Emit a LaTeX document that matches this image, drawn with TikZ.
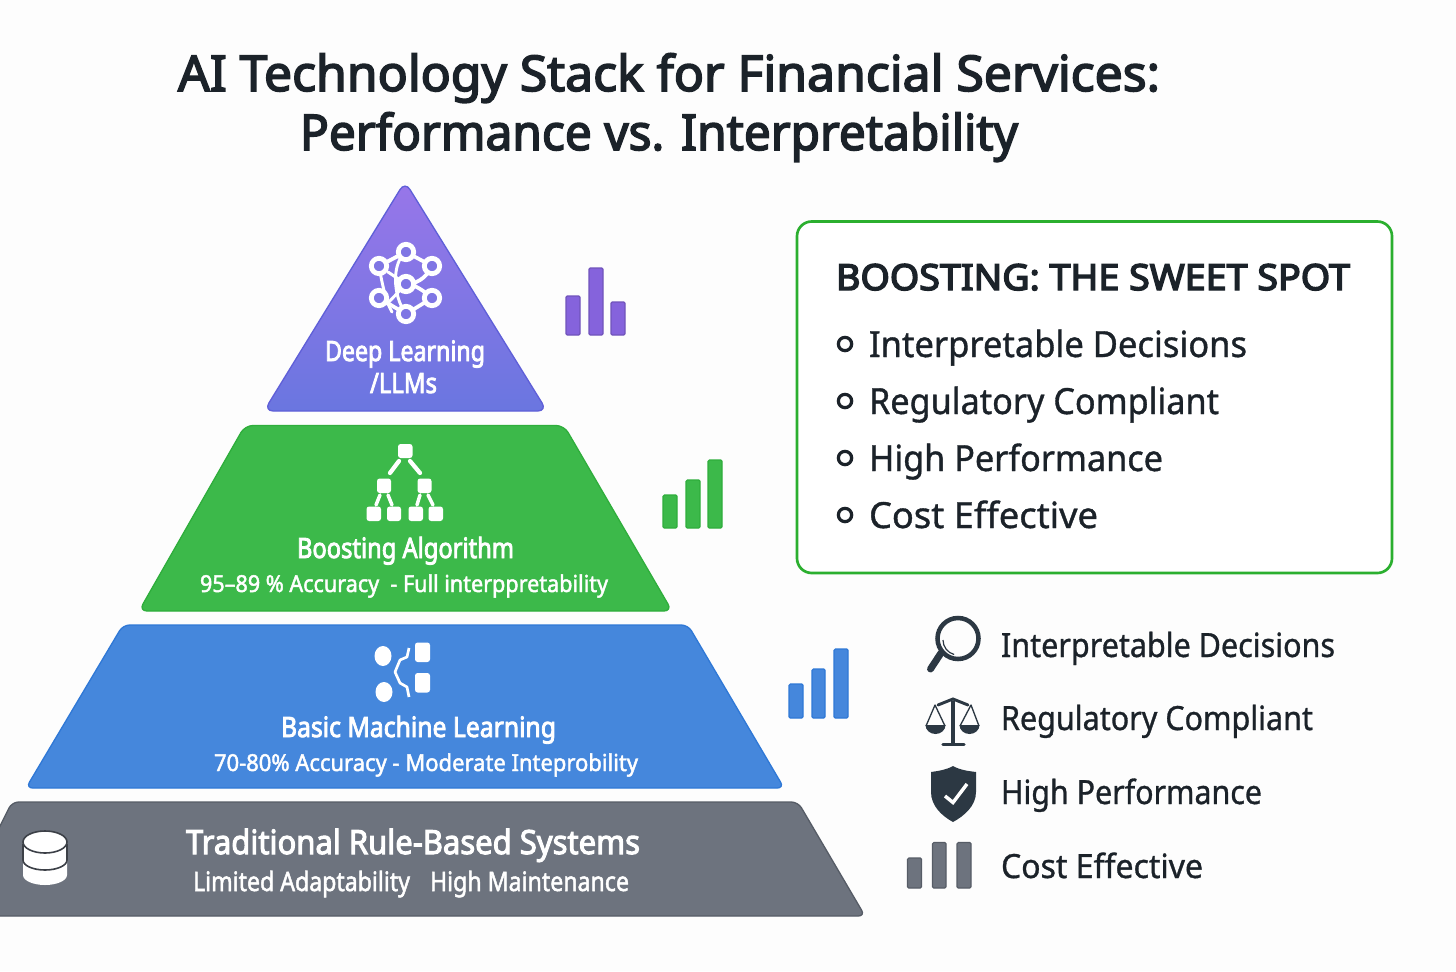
\documentclass[tikz,border=0pt]{standalone}
\usepackage{fontspec}
\usepackage{graphicx}
\setmainfont{Noto Sans}
\newfontfamily\medf[FakeBold=3.2]{Noto Sans}
\newfontfamily\semif[FakeBold=4]{Noto Sans}
\newfontfamily\lightf[FakeBold=1]{Noto Sans}
\newfontfamily\subf[FakeBold=2]{Noto Sans}
\newlength\pxu
\setlength\pxu{0.75pt}
\newcommand\fitw[2]{\resizebox{#1\pxu}{\height}{#2}}
\definecolor{ink}{HTML}{1B2229}
\definecolor{slateicon}{HTML}{2C3843}
\definecolor{purpleA}{HTML}{9876E9}
\definecolor{purpleB}{HTML}{6A76E0}
\definecolor{purpleE}{HTML}{5F5FD8}
\definecolor{purplebar}{HTML}{8563DC}
\definecolor{greenF}{HTML}{3CB94A}
\definecolor{greenE}{HTML}{2FAE3C}
\definecolor{blueF}{HTML}{4587DC}
\definecolor{blueE}{HTML}{2F78D6}
\definecolor{grayF}{HTML}{6D737E}
\definecolor{grayE}{HTML}{565C66}
\definecolor{boxgreen}{HTML}{2BAF2F}
\definecolor{paper}{HTML}{FDFDFD}
\tikzset{
  x=0.75pt,y=-0.75pt,
  txt/.style={anchor=base west,inner sep=0pt,outer sep=0pt},
  whitetxt/.style={txt,text=white},
  inktxt/.style={txt,text=ink},
  titletxt/.style={inktxt,font=\fontsize{37}{40}\medf},
  boxtxt/.style={inktxt,font=\fontsize{27}{30}\lightf},
  legtxt/.style={inktxt,font=\fontsize{25}{28}\lightf},
  tierhead/.style={whitetxt,font=\fontsize{21}{24}\medf},
  tiersub/.style={whitetxt,font=\fontsize{17.5}{20}\subf},
  bar/.style={rounded corners=1pt,line width=0.9pt},
  ic/.style={draw=white,line width=3.2pt,line cap=round,line join=round},
  nnode/.style={circle,draw=white,line width=3.6pt,fill=purpleB!55!purpleA,minimum size=11.5pt,inner sep=0pt},
  whitebox/.style={fill=white,rounded corners=2pt},
  bul/.style={circle,draw=ink,line width=2.4pt,fill=none,minimum size=10pt,inner sep=0pt},
}
\begin{document}
\begin{tikzpicture}
\useasboundingbox (0,0) rectangle (1456,971);
\fill[paper] (0,0) rectangle (1456,971);

% Title
\node[titletxt] (t1) at (178,91) {\fitw{982}{AI Technology Stack for Financial Services:}};
\node[titletxt] (t2) at (300,150) {\fitw{718}{Performance vs. Interpretability}};

% Tiers
\draw[draw=purpleE,line width=1pt,top color=purpleA,bottom color=purpleB,rounded corners=7pt]
  (405,181.5) -- (547,411) -- (264,411) -- cycle;
\draw[draw=greenE,line width=1pt,fill=greenF,rounded corners=6pt]
  (245,425.5) -- (564,425.5) -- (672,611) -- (139,611) -- cycle;
\draw[draw=blueE,line width=1pt,fill=blueF,rounded corners=5pt]
  (123,625) -- (688,625) -- (784,788) -- (26,788) -- cycle;
\begin{scope}
\clip (0,0) rectangle (1456,971);
\draw[draw=grayE,line width=1pt,fill=grayF,rounded corners=5pt]
  (12,802) -- (798,802) -- (865,916) -- (-45,916) -- cycle;
\end{scope}

% Neural net icon
\coordinate (na) at (406,252);
\coordinate (nb) at (379,266);
\coordinate (nc) at (432,266);
\coordinate (nd) at (406,284);
\coordinate (ne) at (379,298);
\coordinate (nf) at (432,298);
\coordinate (ng) at (406,314);
\draw[ic,line width=2.8pt] (nb) -- (na) -- (nc) .. controls (425,280) and (415,284) .. (nd) .. controls (415,284) and (425,292) .. (nf) -- (ng) -- (ne);
\draw[ic,line width=2.2pt] (na) .. controls (392,262) and (392,295) .. (ng);
\draw[ic,line width=2.2pt] (nb) .. controls (384,295) and (388,305) .. (392,312);
\draw[ic,line width=2.2pt] (nb) .. controls (388,262) and (392,258) .. (na);
\draw[ic,line width=2.2pt] (nd) -- (387,304);
\draw[ic,line width=2.2pt] (nd) -- (388,272);
\foreach \n in {na,nb,nc,nd,ne,nf,ng} \node[nnode] at (\n) {};

% Tree icon
\draw[ic] (399,461) -- (390,473);
\draw[ic] (410,461) -- (420,473);
\draw[ic,line width=2.6pt] (380,495) -- (376,505);
\draw[ic,line width=2.6pt] (388,495) -- (392,505);
\draw[ic,line width=2.6pt] (420,495) -- (417,505);
\draw[ic,line width=2.6pt] (428,495) -- (433,505);
\fill[whitebox] (398,444) rectangle (412.5,458);
\fill[whitebox] (377,478.5) rectangle (391,493);
\fill[whitebox] (417.5,478.5) rectangle (431.5,493);
\fill[whitebox] (366.5,506.5) rectangle (381,521);
\fill[whitebox] (387,506.5) rectangle (401,521);
\fill[whitebox] (408.5,506.5) rectangle (423,521);
\fill[whitebox] (428.5,506.5) rectangle (443,521);

% ML icon
\fill[white] (383,656) ellipse (8.5 and 10);
\fill[white] (384,692) ellipse (8.5 and 10);
\fill[whitebox] (415,642.5) rectangle (430,662);
\fill[whitebox] (415,673) rectangle (430,692.5);
\draw[white,line width=2pt,line join=round] (409,648) -- (407,657) -- (400,660) -- (395,672) -- (400,683) -- (407,687) -- (409,697);

% DB icon
\fill[white] (23,860) -- (23,875) arc[start angle=180,end angle=0,x radius=22,y radius=10] -- (67,860) -- cycle;
\draw[draw=grayE!70!black,line width=1.2pt,fill=white] (23,845) -- (23,860) arc[start angle=180,end angle=0,x radius=22,y radius=10] -- (67,845) -- cycle;
\draw[draw=grayE!70!black,line width=1.2pt,fill=white] (45,842) ellipse (22 and 11);

% Tier text
\node[tierhead] (dl1) at (325,361) {\fitw{160}{Deep Learning}};
\node[tierhead] (dl2) at (370,393) {\fitw{67}{/LLMs}};
\node[tierhead] (bo1) at (297,558) {\fitw{217}{Boosting Algorithm}};
\node[tiersub] (bo2) at (200,592) {\fitw{408}{95–89 \% Accuracy\ \ - Full interppretability}};
\node[tierhead] (ml1) at (281,737) {\fitw{275}{Basic Machine Learning}};
\node[tiersub] (ml2) at (214,771) {\fitw{424}{70-80\% Accuracy - Moderate Inteprobility}};
\node[whitetxt,font=\fontsize{25}{28}\medf] (tr1) at (186,854) {\fitw{454}{Traditional Rule-Based Systems}};
\node[tiersub,font=\fontsize{20}{24}\subf] (tr2) at (193,891) {\fitw{217}{Limited Adaptability}};
\node[tiersub,font=\fontsize{20}{24}\subf] (tr3) at (430,891) {\fitw{199}{High Maintenance}};

% Performance bars
\draw[bar,draw=purplebar!85!black,fill=purplebar] (566,296) rectangle (580,335);
\draw[bar,draw=purplebar!85!black,fill=purplebar] (589,268) rectangle (603,335);
\draw[bar,draw=purplebar!85!black,fill=purplebar] (611,302) rectangle (625,335);
\draw[bar,draw=greenE,fill=greenF] (663,495) rectangle (677,528);
\draw[bar,draw=greenE,fill=greenF] (686,480) rectangle (700,528);
\draw[bar,draw=greenE,fill=greenF] (708,460) rectangle (722,528);
\draw[bar,draw=blueE,fill=blueF] (789,684) rectangle (803,718);
\draw[bar,draw=blueE,fill=blueF] (812,669) rectangle (825,718);
\draw[bar,draw=blueE,fill=blueF] (834,649) rectangle (848,718);

% Sweet spot box
\draw[draw=boxgreen,line width=2pt,fill=white,rounded corners=11pt] (797,221.5) rectangle (1392,573) ;
\node[inktxt,font=\fontsize{27}{30}\semif] (bh) at (836,290) {\fitw{514}{BOOSTING: THE SWEET SPOT}};
\node[bul] (b1) at (845,344) {};
\node[bul] (b2) at (845,401) {};
\node[bul] (b3) at (845,458) {};
\node[bul] (b4) at (845,515) {};
\node[boxtxt] (bt1) at (869,357) {\fitw{378}{Interpretable Decisions}};
\node[boxtxt] (bt2) at (869,414) {\fitw{350}{Regulatory Compliant}};
\node[boxtxt] (bt3) at (869,471) {\fitw{294}{High Performance}};
\node[boxtxt] (bt4) at (869,528) {\fitw{229}{Cost Effective}};

% Legend text
\node[legtxt] (l1) at (1001,657) {\fitw{334}{Interpretable Decisions}};
\node[legtxt] (l2) at (1001,730) {\fitw{312}{Regulatory Compliant}};
\node[legtxt] (l3) at (1001,804) {\fitw{261}{High Performance}};
\node[legtxt] (l4) at (1001,878) {\fitw{202}{Cost Effective}};

% Magnifier
\draw[slateicon,line width=3.4pt] (958,638.5) circle (20.5);
\draw[slateicon,line width=0.9pt] (943,640) arc[start angle=180,end angle=105,radius=15];
\draw[slateicon,line width=5.2pt,line cap=round] (941,653) -- (930.5,669);

% Scales
\draw[slateicon,line width=2.6pt] (953,701) -- (953,743);
\draw[slateicon,line width=2.6pt,line cap=round] (943,744.5) -- (964,744.5);
\draw[slateicon,line width=2.2pt,line cap=round] (938,705) -- (953,699) -- (968,705);
\draw[slateicon,line width=1pt,line join=round] (926,726) -- (935,705) -- (945,726);
\draw[slateicon,line width=1pt,line join=round] (960,726) -- (971,705) -- (979,726);
\fill[slateicon] (925.5,725) -- (945.5,725) arc[start angle=0,end angle=180,x radius=10,y radius=9] -- cycle;
\fill[slateicon] (959.5,725) -- (979.5,725) arc[start angle=0,end angle=180,x radius=10,y radius=9] -- cycle;

% Shield
\fill[slateicon] (953,766) .. controls (960,770) and (968,771) .. (976,772) -- (976,792) .. controls (976,806) and (964,816) .. (953,822) .. controls (942,816) and (931,806) .. (931,792) -- (931,772) .. controls (938,771) and (946,770) .. cycle;
\draw[white,line width=2.6pt] (945,796) -- (953,802.5) -- (967,784);

% Cost bars
\draw[bar,draw=grayE,fill=grayF] (907.5,858) rectangle (921.5,888);
\draw[bar,draw=grayE,fill=grayF] (932.5,842.5) rectangle (946,888);
\draw[bar,draw=grayE,fill=grayF] (957,842.5) rectangle (971,888);
\end{tikzpicture}
\end{document}
